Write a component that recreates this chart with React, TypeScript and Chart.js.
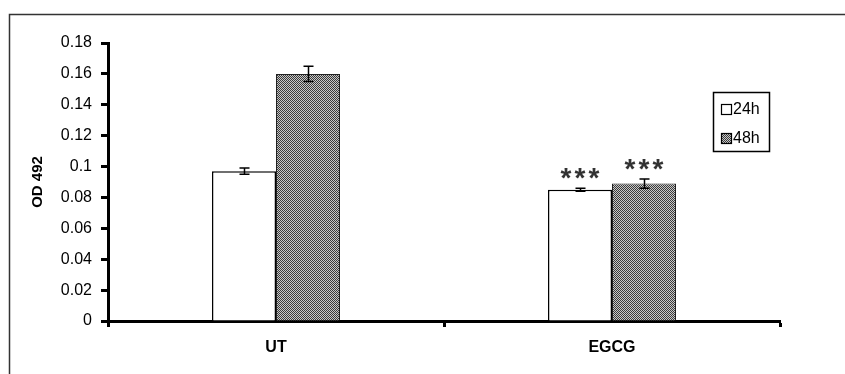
import React, { useEffect, useRef } from "react";
import { Chart, registerables } from "chart.js";

Chart.register(...registerables);

const categories = ["UT", "EGCG"];
const seriesLabels = ["24h", "48h"];
const values24h = [0.097, 0.085];
const values48h = [0.16, 0.089];
const errors24h = [0.002, 0.001];
const errors48h = [0.005, 0.003];
const significance24h = ["", "***"];
const significance48h = ["", "***"];
const yTickLabels = ["0", "0.02", "0.04", "0.06", "0.08", "0.1", "0.12", "0.14", "0.16", "0.18"];

const FONT = "'Liberation Sans', Arial, sans-serif";

function makePattern(): CanvasPattern | string {
  const c = document.createElement("canvas");
  c.width = 2;
  c.height = 2;
  const g = c.getContext("2d");
  if (!g) return "#888";
  g.fillStyle = "#c8c8c8";
  g.fillRect(0, 0, 2, 2);
  g.fillStyle = "#3a3a3a";
  g.fillRect(0, 0, 1, 1);
  g.fillRect(1, 1, 1, 1);
  const p = g.createPattern(c, "repeat");
  return p || "#888";
}

export default function App() {
  const ref = useRef<HTMLCanvasElement>(null);

  useEffect(() => {
    if (!ref.current) return;
    const pattern = makePattern();
    const errs = [errors24h, errors48h];
    const sig = [significance24h, significance48h];

    const overlay = {
      id: "overlay",
      afterDatasetsDraw(chart: any) {
        const ctx = chart.ctx;
        const y = chart.scales.y;
        ctx.save();
        chart.data.datasets.forEach((ds: any, di: number) => {
          const meta = chart.getDatasetMeta(di);
          meta.data.forEach((bar: any, i: number) => {
            const v = ds.data[i];
            const e = errs[di][i];
            const x = Math.round(bar.x) + 0.5;
            const yTop = y.getPixelForValue(v + e);
            const yBot = y.getPixelForValue(v - e);
            ctx.strokeStyle = "#000";
            ctx.lineWidth = 1.5;
            ctx.beginPath();
            ctx.moveTo(x, yTop);
            ctx.lineTo(x, yBot);
            ctx.moveTo(x - 5, yTop);
            ctx.lineTo(x + 5, yTop);
            ctx.moveTo(x - 5, yBot);
            ctx.lineTo(x + 5, yBot);
            ctx.stroke();
            const s = sig[di][i];
            if (s) {
              ctx.fillStyle = "#333";
              ctx.font = "bold 28px " + FONT;
              ctx.textAlign = "center";
              ctx.textBaseline = "alphabetic";
              const chars = s.split("");
              const step = 14;
              chars.forEach((ch: string, k: number) => {
                const cx = bar.x + (k - (chars.length - 1) / 2) * step;
                ctx.fillText(ch, cx, yTop - 1);
              });
            }
          });
        });
        // y title
        ctx.save();
        ctx.translate(38, 182);
        ctx.rotate(-Math.PI / 2);
        ctx.fillStyle = "#000";
        ctx.font = "bold 15px " + FONT;
        ctx.textAlign = "center";
        ctx.textBaseline = "middle";
        ctx.fillText("OD 492", 0, 0);
        ctx.restore();
        // legend
        ctx.strokeStyle = "#000";
        ctx.lineWidth = 1.5;
        ctx.strokeRect(713.5, 92.5, 56, 59);
        const fills: any[] = ["#fff", pattern];
        seriesLabels.forEach((lab, k) => {
          const cy = 109 + k * 29;
          ctx.fillStyle = fills[k];
          ctx.fillRect(721, cy - 5, 11, 11);
          ctx.lineWidth = 1.2;
          ctx.strokeStyle = "#000";
          ctx.strokeRect(721.5, cy - 4.5, 10, 10);
          ctx.fillStyle = "#000";
          ctx.font = "16px " + FONT;
          ctx.textAlign = "left";
          ctx.textBaseline = "middle";
          ctx.fillText(lab, 733, cy + 1);
        });
        // outer frame
        ctx.strokeStyle = "#333";
        ctx.lineWidth = 1.5;
        ctx.beginPath();
        ctx.moveTo(9.5, 380);
        ctx.lineTo(9.5, 14.5);
        ctx.lineTo(850, 14.5);
        ctx.stroke();
        ctx.restore();
      },
    };

    const chart = new Chart(ref.current, {
      type: "bar",
      data: {
        labels: categories,
        datasets: [
          {
            label: seriesLabels[0],
            data: values24h,
            backgroundColor: "#fff",
            borderColor: "#000",
            borderWidth: 1.5,
          },
          {
            label: seriesLabels[1],
            data: values48h,
            backgroundColor: pattern as any,
            borderColor: "#222",
            borderWidth: 1,
          },
        ],
      },
      options: {
        responsive: false,
        animation: false,
        layout: { padding: { left: 0, top: 43, right: 65, bottom: 0 } },
        plugins: { legend: { display: false }, tooltip: { enabled: false } },
        datasets: { bar: { categoryPercentage: 0.381, barPercentage: 1 } },
        scales: {
          x: {
            grid: {
              offset: true,
              drawOnChartArea: false,
              drawTicks: true,
              tickLength: 6,
              tickWidth: 3,
              tickColor: "#000",
            },
            border: { display: true, color: "#000", width: 3 },
            ticks: {
              color: "#000",
              padding: 11,
              font: { family: FONT, size: 16, weight: "bold" },
            },
            afterFit(scale: any) {
              scale.height = 53;
            },
          },
          y: {
            min: 0,
            max: 0.18,
            ticks: {
              stepSize: 0.02,
              color: "#000",
              padding: 9,
              font: { family: FONT, size: 16 },
              callback: (_v: any, i: number) => yTickLabels[i],
            },
            grid: {
              drawOnChartArea: false,
              drawTicks: true,
              tickLength: 7,
              tickWidth: 3,
              tickColor: "#000",
            },
            border: { display: true, color: "#000", width: 3 },
            afterFit(scale: any) {
              scale.width = 108;
            },
          },
        },
      },
      plugins: [overlay],
    });
    return () => chart.destroy();
  }, []);

  return (
    <div style={{ position: "absolute", left: 0, top: 0, width: 845, height: 374, background: "#fff" }}>
      <canvas ref={ref} width={845} height={374} />
    </div>
  );
}
